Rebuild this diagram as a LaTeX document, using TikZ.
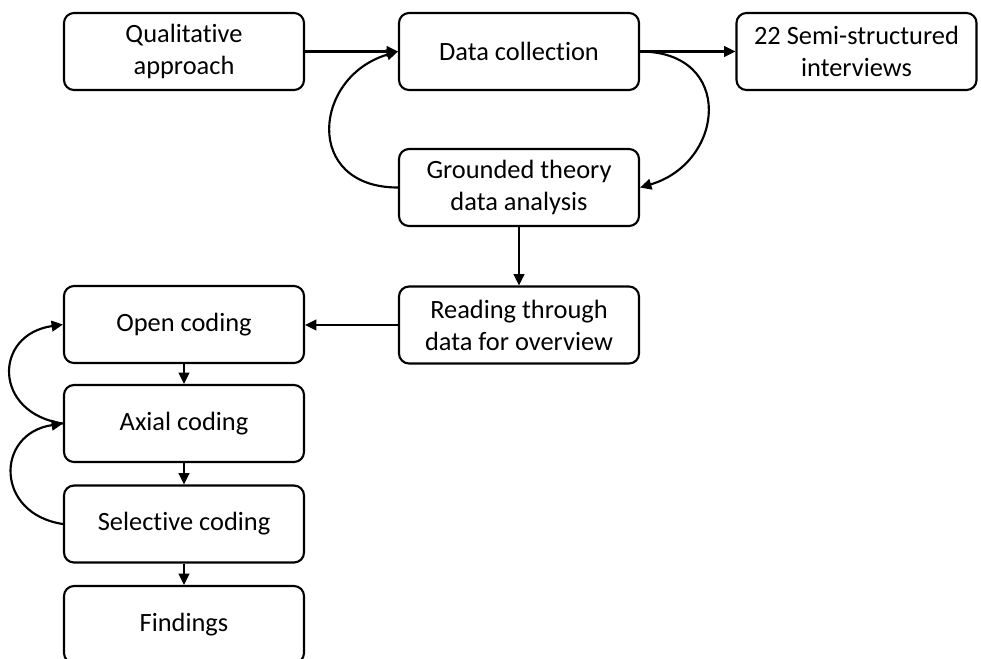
\documentclass[tikz,border=0pt]{standalone}
\usepackage{fontspec}
\setmainfont{Carlito}[Ligatures={NoCommon,NoRequired}]
\usetikzlibrary{arrows.meta}
% separate t and i so the font does not join them into one glyph
\newcommand{\tsep}{t\kern0pt i}
\begin{document}
\begin{tikzpicture}[x=0.75pt,y=-0.75pt,
  stage/.style={draw, line width=1.6pt, rounded corners=7.5pt,
    minimum width=180pt, minimum height=57.75pt, align=center,
    font=\fontsize{19.8}{24}\selectfont, inner sep=2pt},
  flow/.style={line width=1.6pt, -{Triangle[length=8.5pt,width=8pt]}}]
\useasboundingbox (0,0) rectangle (981,658);
\clip (0,0) rectangle (981,658);

% research stages
\node[stage] (qual)  at (184,51.5)   {Qualita\tsep ve\\approach};
\node[stage] (dc)    at (519,51.5)   {Data collec\tsep on};
\node[stage] (semi)  at (856.5,51.5) {22 Semi-structured\\interviews};
\node[stage] (gt)    at (519,187.5)  {Grounded theory\\data analysis};
\node[stage] (read)  at (519,325)    {Reading through\\data for overview};
\node[stage] (open)  at (184,324.5)  {Open coding};
\node[stage] (axial) at (184,423.5)  {Axial coding};
\node[stage] (sel)   at (184,524)    {Selec\tsep ve coding};
\node[stage] (find)  at (184,624.5)  {Findings};

% straight connections
\draw[flow] (qual.east) -- (dc.west);
\draw[flow] (dc.east) -- (semi.west);
\draw[flow] (gt.south) -- (read.north);
\draw[flow] (read.west) -- (open.east |- read.west);
\draw[flow] (open.south) -- (axial.north);
\draw[flow] (axial.south) -- (sel.north);
\draw[flow] (sel.south) -- (find.north);

% iteration loops
\draw[flow] (gt.west) .. controls +(-95,0) and +(-85,25) .. (dc.west);
\draw[flow] (dc.east) .. controls +(95,0) and +(85,-25) .. (gt.east);
\draw[flow] (axial.west) .. controls +(-70,-10) and +(-70,10) .. (open.west);
\draw[flow] (sel.west) .. controls +(-68,-10) and +(-68,10) .. (axial.west);
\end{tikzpicture}
\end{document}
